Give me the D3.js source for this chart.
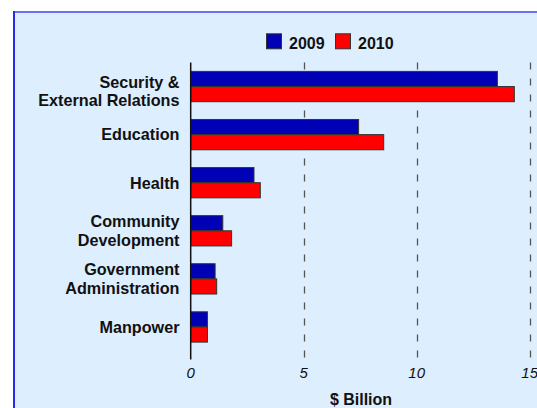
<!DOCTYPE html>
<html>
<head>
<meta charset="utf-8">
<script src="https://cdnjs.cloudflare.com/ajax/libs/d3/7.8.5/d3.min.js"></script>
<style>
  html, body { margin: 0; padding: 0; background: #ffffff; }
  svg { display: block; font-family: "Liberation Sans", Arial, sans-serif; }
</style>
</head>
<body>
<svg id="chart" width="537" height="408"></svg>
<script>
const categories = [
  ["Security &", "External Relations"],
  ["Education"],
  ["Health"],
  ["Community", "Development"],
  ["Government", "Administration"],
  ["Manpower"]
];
const seriesNames = ["2009", "2010"];
const values2009 = [13.57, 7.43, 2.80, 1.42, 1.08, 0.74];
const values2010 = [14.32, 8.54, 3.08, 1.81, 1.15, 0.74];
const tickValues = [0, 5, 10, 15];
const axisTitle = "$ Billion";
const colors = ["#0000b4", "#ff0000"];

const svg = d3.select("#chart");

// panel background
svg.append("rect").attr("x", 13).attr("y", 11).attr("width", 600).attr("height", 500)
  .attr("fill", "#ddeeff");
svg.append("line").attr("x1", 13).attr("x2", 537).attr("y1", 12).attr("y2", 12)
  .attr("stroke", "#6f6fff").attr("stroke-width", 2);
svg.append("line").attr("x1", 14).attr("x2", 14).attr("y1", 11).attr("y2", 408)
  .attr("stroke", "#2a2aee").attr("stroke-width", 2);

const x = d3.scaleLinear().domain([0, 15]).range([190.7, 529.7]);
const y = d3.scaleBand().domain(d3.range(categories.length))
  .range([62.5, 351]).paddingInner(0.37).paddingOuter(0.185);
const ySub = d3.scaleBand().domain(d3.range(seriesNames.length)).range([0, y.bandwidth()]);

// gridlines (dashed)
svg.append("g").selectAll("line").data(tickValues.filter(d => d > 0)).join("line")
  .attr("x1", d => Math.round(x(d)) + 0.5).attr("x2", d => Math.round(x(d)) + 0.5)
  .attr("y1", 62.5).attr("y2", 359.5)
  .attr("stroke", "#555").attr("stroke-width", 1.3)
  .attr("stroke-dasharray", "7,9");

// bars
const series = [values2009, values2010];
const g = svg.append("g");
series.forEach((vals, si) => {
  g.selectAll(null).data(vals).join("rect")
    .attr("x", x(0))
    .attr("y", (d, i) => y(i) + ySub(si))
    .attr("width", d => x(d) - x(0))
    .attr("height", ySub.bandwidth())
    .attr("fill", colors[si])
    .attr("stroke", "#333").attr("stroke-width", 1);
});

// category axis line
svg.append("line").attr("x1", x(0)).attr("x2", x(0)).attr("y1", 62.5).attr("y2", 359.5)
  .attr("stroke", "#111").attr("stroke-width", 1.5);

// category labels
const lh = 18.7;
categories.forEach((lines, i) => {
  const c = y(i) + y.bandwidth() / 2 + (i === 0 ? 4.8 : 0);
  const t = svg.append("text").attr("text-anchor", "end")
    .attr("font-size", 16.2).attr("font-weight", "bold").attr("fill", "#111");
  lines.forEach((ln, k) => {
    t.append("tspan").attr("x", 179.5)
      .attr("y", c - (lines.length - 1) * lh / 2 + k * lh + 5.8)
      .text(ln);
  });
});

// tick labels
svg.append("g").selectAll("text").data(tickValues).join("text")
  .attr("x", d => x(d)).attr("y", 378.3)
  .attr("text-anchor", "middle").attr("font-size", 15).attr("font-style", "italic")
  .attr("fill", "#111").text(d => d);

// axis title
svg.append("text").attr("x", 361).attr("y", 405).attr("text-anchor", "middle")
  .attr("font-size", 16).attr("font-weight", "bold").attr("fill", "#111").text(axisTitle);

// legend
const legX = [266, 335];
seriesNames.forEach((s, i) => {
  svg.append("rect").attr("x", legX[i] + 0.5).attr("y", 33.8).attr("width", 15).attr("height", 15)
    .attr("fill", colors[i]).attr("stroke", "#333").attr("stroke-width", 1);
  svg.append("text").attr("x", legX[i] + 23).attr("y", 49.3)
    .attr("font-size", 16).attr("font-weight", "bold").attr("fill", "#111").text(s);
});
</script>
</body>
</html>
